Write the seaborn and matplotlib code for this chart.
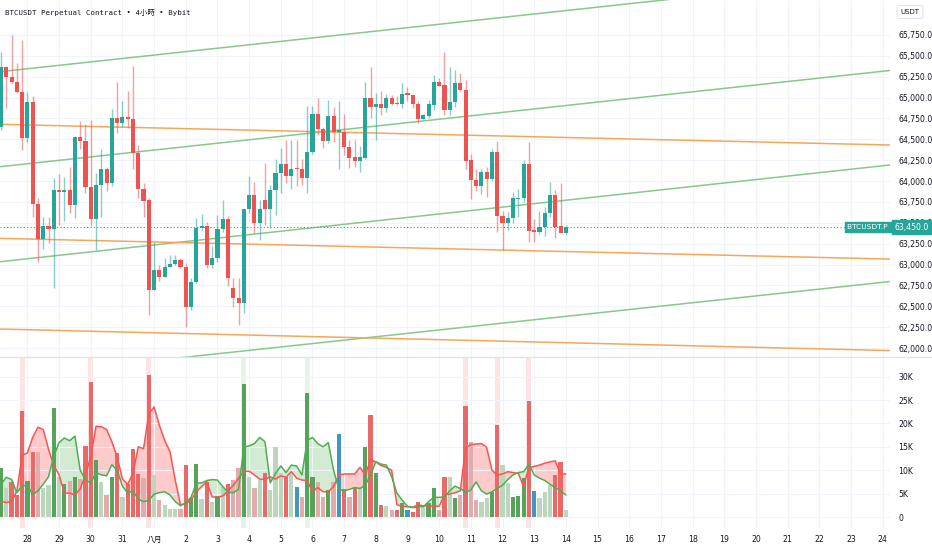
import numpy as np
import pandas as pd
import matplotlib
matplotlib.use("Agg")
import matplotlib.pyplot as plt
from matplotlib.lines import Line2D
import seaborn as sns

# 4h candles, index 0 = Jul 27 04:00 (first visible bar)
opens = [64650, 65370, 65250, 65190, 65070, 64512, 64944, 63725, 63306, 63462,
         63422, 63893, 63870, 63893, 63713, 64532, 64480, 63933, 63546, 63953,
         64141, 63980, 64760, 64700, 64768, 64748, 64333, 63901, 63773, 62695,
         62935, 62855, 62975, 63007, 63055, 62967, 62495, 62787, 63434, 63462,
         62995, 63075, 63426, 63542, 62720, 62596, 62536, 63662, 63833, 63502,
         63773, 63662, 63893, 64093, 64205, 64064, 64152, 64141, 64033, 64345,
         64800, 64620, 64484, 64783, 64592, 64592, 64405, 64285, 64245, 64280,
         65000, 64884, 64924, 64880, 64992, 64930, 64924, 65050, 65030, 64924,
         64744, 64780, 64910, 65190, 65150, 64850, 64944, 65178, 65090, 64250,
         64013, 63940, 64113, 64025, 64345, 63582, 63502, 63554, 63790, 63794,
         64205, 63414, 63386, 63446, 63622, 63833, 63462, 63382]
highs = [65550, 65380, 65750, 65410, 65690, 65063, 65020, 63800, 63575, 63575,
         64040, 64085, 64050, 64170, 64540, 64720, 64680, 64730, 64093, 64385,
         64172, 64860, 65183, 64963, 65080, 65382, 64430, 63980, 63794, 63267,
         63000, 63075, 63110, 63110, 63080, 63015, 62843, 63553, 63600, 63510,
         63220, 63590, 63773, 63580, 62835, 62835, 63670, 64060, 63993, 63773,
         64220, 63953, 64260, 64393, 64492, 64492, 64492, 64260, 64900, 64900,
         64990, 64650, 64970, 64890, 64960, 64800, 64492, 64492, 64420, 65190,
         65363, 65050, 65080, 65040, 65030, 65020, 65170, 65123, 65030, 64963,
         64800, 64970, 65270, 65230, 65543, 65363, 65330, 65300, 65210, 64320,
         64140, 64150, 64170, 64380, 64480, 63640, 63630, 63873, 63900, 64250,
         64472, 63550, 63640, 63690, 63993, 63893, 63980, 63480]
lows = [64610, 64875, 65170, 65050, 64370, 64470, 63575, 63035, 63186, 63255,
        62715, 63475, 63520, 63620, 63560, 64390, 63860, 63465, 63174, 63575,
        63885, 63945, 64572, 64644, 64632, 64140, 63794, 63573, 62396, 62690,
        62807, 62850, 62970, 62995, 62960, 62256, 62460, 62780, 63420, 62955,
        62955, 63035, 63390, 62743, 62495, 62276, 62420, 63620, 63375, 63295,
        63470, 63434, 63595, 63860, 63980, 63910, 63940, 63950, 63853, 64330,
        64550, 64400, 64460, 64470, 64140, 64310, 64153, 64170, 64110, 64270,
        64752, 64492, 64790, 64830, 64910, 64910, 64870, 64963, 64880, 64690,
        64740, 64760, 64850, 65140, 64790, 64790, 64890, 65080, 64150, 63782,
        63885, 63850, 63806, 64000, 63395, 63180, 63415, 63495, 63573, 63750,
        63273, 63265, 63365, 63340, 63565, 63315, 63375, 63355]
closes = [65370, 65250, 65190, 65064, 64512, 64944, 63725, 63306, 63462, 63422,
          63893, 63870, 63893, 63713, 64532, 64480, 63933, 63546, 63953, 64141,
          63980, 64760, 64696, 64768, 64740, 64333, 63901, 63765, 62695, 62935,
          62855, 62975, 63007, 63055, 62967, 62495, 62787, 63434, 63462, 62995,
          63075, 63426, 63542, 62835, 62596, 62536, 63662, 63833, 63502, 63662,
          63662, 63893, 64093, 64205, 64064, 64145, 64141, 64033, 64345, 64800,
          64620, 64484, 64783, 64592, 64610, 64405, 64280, 64245, 64285, 65000,
          64884, 64924, 64880, 64992, 64924, 64920, 65040, 65030, 64924, 64744,
          64792, 64924, 65190, 65143, 64850, 64944, 65178, 65090, 64245, 64013,
          63940, 64113, 64025, 64345, 63582, 63502, 63560, 63794, 63800, 64205,
          63406, 63386, 63446, 63622, 63833, 63446, 63382, 63450]

# volume (thousands) and bar colour code per bar
volume_k = [10.4, 6.3, 7.5, 4.8, 22.7, 7.7, 14.0, 14.0, 6.3, 6.8,
            23.4, 8.6, 7.0, 7.7, 8.5, 8.1, 15.2, 28.9, 12.2, 7.5,
            4.6, 8.5, 13.6, 4.2, 7.0, 14.5, 9.1, 8.4, 30.3, 9.0,
            3.6, 2.5, 1.7, 1.8, 1.7, 11.2, 4.1, 11.3, 3.8, 7.5,
            3.3, 4.5, 6.5, 7.0, 7.9, 10.4, 28.4, 8.5, 6.3, 7.9,
            9.5, 5.8, 15.0, 9.5, 8.6, 9.3, 6.5, 4.2, 26.6, 8.6,
            7.5, 4.3, 5.8, 7.5, 17.7, 6.0, 4.2, 6.1, 6.5, 15.0,
            21.9, 9.3, 2.6, 2.4, 1.4, 1.4, 3.1, 1.5, 1.1, 3.3,
            2.2, 2.9, 6.1, 1.4, 8.5, 8.5, 4.1, 4.7, 23.7, 16.0,
            3.6, 3.2, 4.1, 5.4, 19.6, 11.2, 7.2, 4.3, 4.5, 8.4,
            24.9, 5.6, 4.1, 5.3, 6.8, 9.0, 11.7, 1.5]
vol_codes = list("GgRRRGRrgg" "GgGrGrRRGg" "rGRgRRRrRg" "rgggrRGGgR"
                 "gGgRrrGgrg" "RgggRgBrGG" "rrGrBRrRgG" "RGRgrRGBRR"
                 "gGGrRgGrRr" "rggGRggGGG" "RBgggRRg")

# sell / buy volume averages (thousands)
sell_avg = [3.3, 3.1, 3.3, 5.5, 13.2, 13.7, 17.0, 19.2, 18.7, 14.5,
            11.0, 9.0, 5.1, 5.1, 4.7, 6.0, 9.0, 12.9, 19.4, 19.3,
            18.7, 16.1, 12.9, 8.1, 7.0, 9.3, 15.0, 14.6, 22.1, 23.5,
            19.6, 16.4, 14.0, 7.9, 2.6, 2.8, 3.6, 5.4, 6.5, 7.5,
            4.3, 4.2, 4.5, 5.6, 6.8, 8.3, 9.7, 9.8, 9.0, 8.1,
            8.0, 8.6, 8.1, 8.8, 8.5, 9.7, 8.3, 7.9, 7.8, 5.4,
            6.3, 5.4, 5.4, 6.5, 9.0, 9.2, 9.2, 9.2, 10.6, 9.0,
            12.2, 11.8, 11.0, 10.6, 10.0, 2.6, 2.3, 2.2, 2.1, 2.6,
            2.4, 2.3, 2.3, 2.3, 4.7, 4.9, 5.2, 5.6, 14.7, 15.5,
            15.6, 15.7, 14.9, 10.0, 9.0, 9.2, 9.7, 9.5, 9.3, 6.5,
            10.6, 10.8, 11.1, 11.5, 11.8, 12.0, 9.2, 9.2]
buy_avg = [7.0, 8.5, 8.0, 5.2, 6.6, 6.8, 4.8, 5.6, 7.0, 8.6,
           13.0, 15.9, 16.9, 16.3, 17.3, 10.0, 8.0, 7.2, 9.5, 9.0,
           8.8, 11.2, 10.0, 6.6, 5.1, 5.6, 3.8, 3.3, 3.5, 4.9,
           5.2, 5.4, 4.7, 3.3, 2.4, 3.1, 4.2, 7.2, 7.3, 7.8,
           8.0, 7.9, 6.5, 5.3, 5.2, 5.9, 14.9, 15.2, 15.7, 17.0,
           16.1, 7.3, 9.3, 10.9, 9.5, 11.1, 10.9, 9.0, 16.4, 17.0,
           15.7, 15.0, 15.9, 10.0, 5.9, 5.6, 5.9, 6.3, 6.1, 6.8,
           9.0, 11.8, 11.3, 11.1, 8.6, 5.1, 3.6, 2.3, 2.0, 2.2,
           2.2, 3.3, 4.2, 4.2, 4.3, 5.6, 6.6, 6.1, 5.2, 5.8,
           7.5, 5.6, 4.9, 5.4, 6.1, 6.8, 8.0, 9.0, 9.5, 9.7,
           11.3, 9.0, 8.3, 7.8, 7.0, 6.3, 5.6, 4.7]

# highlighted high-volume bars
spike_red = [4, 17, 28, 88, 94, 100]
spike_green = [46, 58]

# drawn trend lines: price at left edge and right edge of the chart
green_lines = [(65310, 66462), (64172, 65325), (63034, 64193), (61652, 62797)]
orange_lines = [(64680, 64432), (63314, 63066), (62228, 61970)]

day_labels = ["28", "29", "30", "31", "八月"] + [str(d) for d in range(2, 25)]
last_price = 63450

UP = "#26a69a"
DOWN = "#ef5350"
TEXT = "#131722"
GRID = "#f0f3fa"
vol_palette = {"R": "#ff5252", "r": "#eaa3a3", "G": "#4caf50", "g": "#b7dbb7", "B": "#2e9fd3"}

sns.set_theme(style="white")
plt.rcParams["font.family"] = ["DejaVu Sans", "Noto Sans CJK TC"]

o = np.array(opens, float)
h = np.array(highs, float)
l = np.array(lows, float)
c = np.array(closes, float)
x = np.arange(len(o))
x_left, x_right = -0.19, 168.4

fig = plt.figure(figsize=(9.32, 5.5), dpi=100)
ax = fig.add_axes([0, 1 - 357 / 550, 890 / 932, 357 / 550])
axv = fig.add_axes([0, 22 / 550, 890 / 932, 171 / 550])

day_ticks = 5 + 6 * np.arange(len(day_labels))

# ---- price pane
for a, b in green_lines:
    ax.plot([x_left, x_right], [a, b], color="#86c98a", lw=1.1, zorder=1)
for a, b in orange_lines:
    ax.plot([x_left, x_right], [a, b], color="#f8a558", lw=1.1, zorder=1)

up = c >= o
cols = np.where(up, UP, DOWN)
ax.vlines(x, l, h, colors=cols, lw=1, alpha=0.55, zorder=2)
body_low = np.minimum(o, c)
body_h = np.maximum(np.abs(c - o), 10)
ax.bar(x, body_h, bottom=body_low, width=0.78, color=cols, zorder=3, linewidth=0)

ax.axhline(last_price, color=UP, ls=(0, (1, 2)), lw=0.8, zorder=2)

ax.set_xlim(x_left, x_right)
ax.set_ylim(61893, 66169)
ax.set_xticks(day_ticks)
ax.set_xticklabels([])
ax.tick_params(axis="x", length=0)
price_ticks = np.arange(62000, 65751, 250)
ax.yaxis.tick_right()
ax.set_yticks(price_ticks)
ax.set_yticklabels([f"{v:,.1f}" for v in price_ticks])
ax.tick_params(axis="y", length=0, pad=6, labelsize=5.6, labelcolor=TEXT)
ax.grid(True, color=GRID, lw=0.8)
for s in ax.spines.values():
    s.set_visible(False)

# pane separator across the full width
fig.add_artist(Line2D([0, 1], [1 - 357 / 550, 1 - 357 / 550], color="#e0e3eb", lw=1))

# ---- volume pane
vol_df = pd.DataFrame({"bar": x, "vol": volume_k, "code": vol_codes})
for i in spike_red:
    axv.axvspan(i - 0.48, i + 0.48, color="#fde3e3", lw=0, zorder=0)
for i in spike_green:
    axv.axvspan(i - 0.48, i + 0.48, color="#e6f3e6", lw=0, zorder=0)

sell = np.array(sell_avg)
buy = np.array(buy_avg)
axv.fill_between(x, sell, buy, where=sell >= buy, interpolate=True,
                 color="#ffcaca", lw=0, zorder=0.5)
axv.fill_between(x, sell, buy, where=buy > sell, interpolate=True,
                 color="#d2ebd2", lw=0, zorder=0.5)

sns.barplot(data=vol_df, x="bar", y="vol", hue="code", palette=vol_palette,
            native_scale=True, dodge=False, width=0.8, errorbar=None,
            legend=False, ax=axv, zorder=2, linewidth=0)
sns.lineplot(x=x, y=sell, color="#ff5252", lw=1.1, ax=axv, zorder=3)
sns.lineplot(x=x, y=buy, color="#4caf50", lw=1.1, ax=axv, zorder=3)

axv.set_xlim(x_left, x_right)
axv.set_ylim(-2.35, 34.2)
axv.set_xticks(day_ticks)
axv.set_xticklabels(day_labels)
axv.tick_params(axis="x", length=0, pad=5, labelsize=5.6, labelcolor=TEXT)
vol_ticks = np.arange(0, 31, 5)
axv.yaxis.tick_right()
axv.set_yticks(vol_ticks)
axv.set_yticklabels(["0"] + [f"{v}K" for v in vol_ticks[1:]])
axv.tick_params(axis="y", length=0, pad=6, labelsize=5.6, labelcolor=TEXT)
axv.set_xlabel("")
axv.set_ylabel("")
axv.grid(True, color=GRID, lw=0.8)
for s in axv.spines.values():
    s.set_visible(False)

# ---- text overlays
fig.text(5 / 932, 1 - 12 / 550, "BTCUSDT Perpetual Contract • 4小時 • Bybit",
         fontsize=5.3, color=TEXT, va="center",
         family=["DejaVu Sans Mono", "Noto Sans CJK TC"])
fig.text(910 / 932, 1 - 12 / 550, "USDT", fontsize=5, color=TEXT, ha="center", va="center",
         bbox=dict(boxstyle="round,pad=0.5,rounding_size=0.3", fc="white", ec="#e0e3eb", lw=0.8))
ax.text(1.0, last_price, "BTCUSDT.P ", transform=ax.get_yaxis_transform(),
        ha="right", va="center", fontsize=5.4, color="white", zorder=6,
        bbox=dict(boxstyle="square,pad=0.25", fc=UP, ec=UP))
ax.text(1.005, last_price, f"{last_price:,.1f}", transform=ax.get_yaxis_transform(),
        ha="left", va="center", fontsize=5.6, color="white", zorder=6, clip_on=False,
        bbox=dict(boxstyle="square,pad=0.3", fc=UP, ec=UP))

fig.savefig("out.png", dpi=100)
